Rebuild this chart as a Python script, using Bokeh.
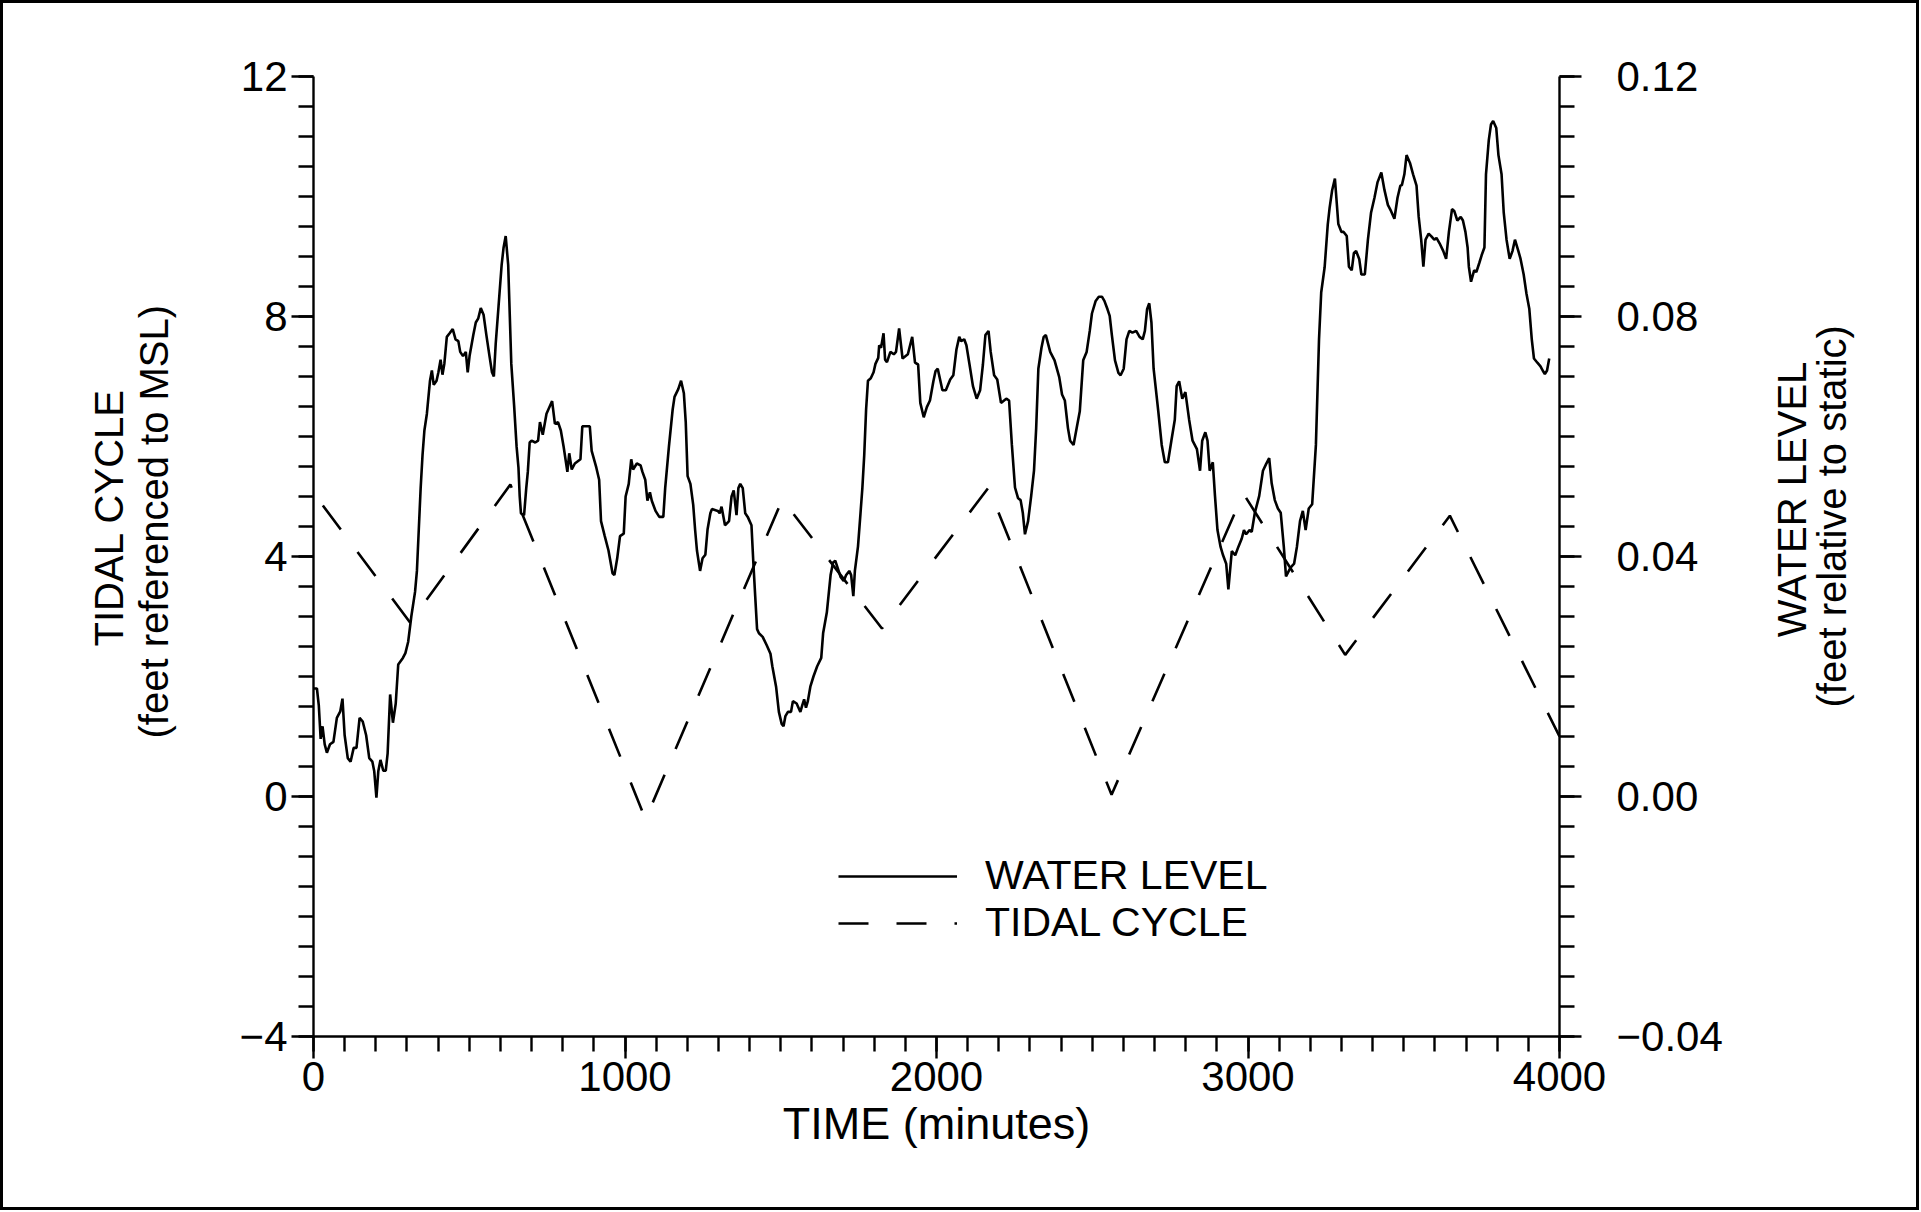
import math
import numpy as np
from bokeh.plotting import figure
from bokeh.layouts import row
from bokeh.models import Range1d, LinearAxis, FixedTicker
from bokeh.core.properties import value
from bokeh.embed import file_html
from bokeh.resources import INLINE

# ---------------- data ----------------
# Water level: time (minutes) and level (feet relative to static, right axis)
water_time = [0, 11, 17, 23, 29, 36, 43, 53, 64, 75, 86, 93, 100, 110, 119, 129, 138, 148, 158, 169,
              179, 189, 195, 202, 208, 215, 224, 232, 238, 246, 255, 264, 272, 287, 295, 304, 314, 326,
              332, 338, 344, 350, 356, 364, 374, 380, 386, 395, 401, 408, 414, 420, 428, 437, 447, 456,
              465, 471, 480, 489, 495, 501, 513, 521, 529, 537, 546, 555, 565, 573, 579, 585, 594, 604,
              610, 617, 625, 635, 644, 652, 658, 662, 666, 676, 683, 688, 694, 700, 712, 721, 727, 736,
              748, 760, 766, 775, 785, 794, 803, 815, 821, 829, 839, 857, 863, 869, 887, 893, 908, 917,
              923, 935, 947, 960, 966, 975, 984, 996, 1002, 1012, 1020, 1026, 1038, 1050, 1056, 1065,
              1072, 1080, 1086, 1098, 1110, 1123, 1129, 1141, 1153, 1159, 1171, 1180, 1189, 1195, 1201,
              1210, 1219, 1225, 1231, 1241, 1249, 1258, 1265, 1274, 1279, 1298, 1304, 1310, 1321, 1334,
              1342, 1349, 1358, 1364, 1370, 1378, 1386, 1394, 1406, 1412, 1418, 1424, 1430, 1442, 1455,
              1467, 1473, 1485, 1494, 1503, 1509, 1515, 1523, 1533, 1539, 1551, 1557, 1563, 1569, 1575,
              1581, 1587, 1595, 1605, 1617, 1630, 1636, 1648, 1660, 1668, 1675, 1684, 1692, 1702, 1710,
              1720, 1726, 1733, 1738, 1748, 1756, 1762, 1768, 1774, 1780, 1789, 1798, 1804, 1813, 1816,
              1822, 1830, 1835, 1841, 1852, 1863, 1870, 1880, 1891, 1908, 1922, 1931, 1941, 1948, 1959,
              1969, 1979, 1990, 1997, 2004, 2019, 2030, 2044, 2054, 2064, 2073, 2079, 2089, 2096, 2106,
              2117, 2129, 2140, 2149, 2157, 2167, 2174, 2185, 2195, 2207, 2224, 2233, 2242, 2252, 2262,
              2270, 2277, 2284, 2294, 2304, 2313, 2320, 2327, 2337, 2344, 2351, 2365, 2379, 2394, 2403,
              2412, 2422, 2429, 2440, 2450, 2460, 2471, 2482, 2492, 2499, 2511, 2521, 2531, 2539, 2549,
              2556, 2563, 2573, 2584, 2591, 2601, 2610, 2619, 2629, 2641, 2652, 2662, 2669, 2676, 2683,
              2690, 2697, 2712, 2723, 2733, 2743, 2754, 2765, 2771, 2779, 2789, 2799, 2811, 2822, 2836,
              2846, 2853, 2863, 2870, 2877, 2887, 2894, 2902, 2912, 2920, 2930, 2937, 2948, 2959, 2969,
              2980, 2987, 2994, 3005, 3012, 3022, 3036, 3048, 3058, 3068, 3076, 3086, 3096, 3105, 3115,
              3122, 3129, 3136, 3148, 3157, 3167, 3176, 3185, 3195, 3206, 3218, 3228, 3235, 3246, 3256,
              3262, 3270, 3279, 3290, 3300, 3307, 3317, 3324, 3333, 3340, 3347, 3357, 3364, 3375, 3385,
              3395, 3406, 3416, 3428, 3438, 3449, 3459, 3470, 3480, 3489, 3494, 3502, 3509, 3520, 3530,
              3541, 3548, 3556, 3563, 3570, 3580, 3588, 3598, 3605, 3615, 3627, 3636, 3645, 3655, 3662,
              3672, 3683, 3690, 3698, 3705, 3709, 3716, 3726, 3733, 3743, 3750, 3759, 3764, 3773, 3780,
              3787, 3797, 3804, 3814, 3821, 3830, 3840, 3849, 3857, 3868, 3875, 3885, 3894, 3903, 3911,
              3918, 3929, 3939, 3946, 3953, 3960, 3967]
water_level = [0.0180, 0.0180, 0.0152, 0.0096, 0.0117, 0.0087, 0.0073, 0.0087, 0.0091, 0.0131, 0.0142,
               0.0163, 0.0102, 0.0064, 0.0058, 0.0081, 0.0081, 0.0131, 0.0125, 0.0102, 0.0064, 0.0058,
               0.0042, -0.0002, 0.0042, 0.0061, 0.0043, 0.0043, 0.0072, 0.0170, 0.0123, 0.0155, 0.0220,
               0.0231, 0.0239, 0.0258, 0.0300, 0.0341, 0.0376, 0.0445, 0.0514, 0.0569, 0.0610, 0.0638,
               0.0693, 0.0710, 0.0686, 0.0693, 0.0707, 0.0728, 0.0703, 0.0721, 0.0766, 0.0772, 0.0779,
               0.0762, 0.0759, 0.0741, 0.0734, 0.0741, 0.0707, 0.0734, 0.0769, 0.0790, 0.0797, 0.0814,
               0.0803, 0.0769, 0.0734, 0.0707, 0.0700, 0.0755, 0.0817, 0.0886, 0.0914, 0.0934, 0.0886,
               0.0721, 0.0652, 0.0583, 0.0548, 0.0500, 0.0472, 0.0469, 0.0514, 0.0541, 0.0590, 0.0593,
               0.0590, 0.0593, 0.0624, 0.0603, 0.0638, 0.0652, 0.0659, 0.0621, 0.0624, 0.0610, 0.0583,
               0.0541, 0.0572, 0.0545, 0.0555, 0.0562, 0.0617, 0.0617, 0.0617, 0.0576, 0.0548, 0.0528,
               0.0459, 0.0434, 0.0410, 0.0372, 0.0369, 0.0397, 0.0434, 0.0438, 0.0500, 0.0521, 0.0562,
               0.0545, 0.0555, 0.0552, 0.0541, 0.0528, 0.0493, 0.0507, 0.0493, 0.0476, 0.0466, 0.0466,
               0.0514, 0.0583, 0.0645, 0.0666, 0.0679, 0.0693, 0.0672, 0.0624, 0.0534, 0.0521, 0.0486,
               0.0445, 0.0410, 0.0376, 0.0397, 0.0403, 0.0445, 0.0472, 0.0479, 0.0476, 0.0472, 0.0483,
               0.0452, 0.0459, 0.0500, 0.0510, 0.0469, 0.0514, 0.0521, 0.0514, 0.0472, 0.0466, 0.0452,
               0.0390, 0.0334, 0.0279, 0.0272, 0.0266, 0.0252, 0.0238, 0.0217, 0.0183, 0.0141, 0.0121,
               0.0117, 0.0134, 0.0141, 0.0141, 0.0159, 0.0155, 0.0148, 0.0141, 0.0152, 0.0162, 0.0148,
               0.0159, 0.0183, 0.0200, 0.0217, 0.0231, 0.0272, 0.0307, 0.0369, 0.0390, 0.0393, 0.0379,
               0.0366, 0.0359, 0.0369, 0.0376, 0.0369, 0.0334, 0.0376, 0.0417, 0.0472, 0.0514, 0.0569,
               0.0645, 0.0693, 0.0697, 0.0707, 0.0721, 0.0731, 0.0752, 0.0748, 0.0772, 0.0728, 0.0724,
               0.0741, 0.0737, 0.0741, 0.0780, 0.0730, 0.0737, 0.0766, 0.0723, 0.0720, 0.0656, 0.0632,
               0.0649, 0.0660, 0.0692, 0.0709, 0.0713, 0.0677, 0.0677, 0.0695, 0.0702, 0.0745, 0.0766,
               0.0759, 0.0762, 0.0752, 0.0720, 0.0684, 0.0663, 0.0677, 0.0720, 0.0769, 0.0776, 0.0741,
               0.0702, 0.0695, 0.0656, 0.0663, 0.0660, 0.0586, 0.0515, 0.0497, 0.0494, 0.0473, 0.0437,
               0.0459, 0.0501, 0.0543, 0.0614, 0.0713, 0.0748, 0.0766, 0.0769, 0.0741, 0.0727, 0.0699,
               0.0670, 0.0660, 0.0614, 0.0593, 0.0586, 0.0614, 0.0642, 0.0727, 0.0741, 0.0776, 0.0805,
               0.0826, 0.0833, 0.0833, 0.0826, 0.0812, 0.0801, 0.0769, 0.0727, 0.0706, 0.0702, 0.0713,
               0.0762, 0.0776, 0.0773, 0.0776, 0.0766, 0.0762, 0.0776, 0.0812, 0.0822, 0.0790, 0.0713,
               0.0642, 0.0586, 0.0557, 0.0557, 0.0593, 0.0628, 0.0684, 0.0692, 0.0663, 0.0674, 0.0628,
               0.0593, 0.0579, 0.0543, 0.0593, 0.0607, 0.0593, 0.0543, 0.0557, 0.0501, 0.0444, 0.0416,
               0.0402, 0.0388, 0.0345, 0.0409, 0.0402, 0.0416, 0.0430, 0.0444, 0.0437, 0.0444, 0.0441,
               0.0473, 0.0501, 0.0543, 0.0554, 0.0564, 0.0522, 0.0494, 0.0480, 0.0473, 0.0416, 0.0367,
               0.0374, 0.0381, 0.0388, 0.0416, 0.0459, 0.0476, 0.0444, 0.0480, 0.0487, 0.0586, 0.0762,
               0.0840, 0.0882, 0.0953, 0.0981, 0.1010, 0.1030, 0.0954, 0.0941, 0.0941, 0.0934, 0.0883,
               0.0877, 0.0906, 0.0909, 0.0896, 0.0870, 0.0870, 0.0928, 0.0973, 0.0998, 0.1024, 0.1040,
               0.1011, 0.0986, 0.0976, 0.0963, 0.0998, 0.1018, 0.1019, 0.1037, 0.1069, 0.1056, 0.1037,
               0.1018, 0.0966, 0.0928, 0.0883, 0.0928, 0.0938, 0.0934, 0.0928, 0.0931, 0.0922, 0.0909,
               0.0896, 0.0941, 0.0979, 0.0976, 0.0960, 0.0966, 0.0960, 0.0941, 0.0915, 0.0883, 0.0858,
               0.0877, 0.0874, 0.0890, 0.0902, 0.0915, 0.1037, 0.1094, 0.1120, 0.1126, 0.1114, 0.1069,
               0.1037, 0.0973, 0.0928, 0.0896, 0.0909, 0.0928, 0.0909, 0.0896, 0.0870, 0.0838, 0.0813,
               0.0762, 0.0730, 0.0723, 0.0717, 0.0710, 0.0704, 0.0710, 0.0730, 0.0737]

# Tidal cycle: time (minutes) and stage (feet referenced to MSL, left axis)
tide_time = [30, 310, 632, 1066, 1505, 1825, 2167, 2562, 2985, 3312, 3648, 4000]
tide_level = [4.85, 2.9, 5.2, -0.38, 4.95, 2.8, 5.15, 0.03, 5.05, 2.36, 4.68, 1.0]

x_ticks = [0, 1000, 2000, 3000, 4000]
left_ticks = [-4, 0, 4, 8, 12]
left_tick_labels = ["\u22124", "0", "4", "8", "12"]
right_ticks = [-0.04, 0.0, 0.04, 0.08, 0.12]
right_tick_labels = ["\u22120.04", "0.00", "0.04", "0.08", "0.12"]
left_title_lines = ["TIDAL CYCLE", "(feet referenced to MSL)"]
right_title_lines = ["WATER LEVEL", "(feet relative to static)"]

FONT = "Liberation Sans"
TOP, FRAME_H, BOTTOM = 76, 960, 174

# ---------------- main figure ----------------
p = figure(frame_width=1246, frame_height=FRAME_H,
           min_border_left=113, min_border_right=181, min_border_top=TOP, min_border_bottom=BOTTOM,
           x_range=Range1d(0, 4000), y_range=Range1d(-4, 12), title=None,
           output_backend="svg", toolbar_location=None,
           background_fill_color="white", border_fill_alpha=0)
p.extra_y_ranges = {"water": Range1d(-0.04, 0.12)}
p.xgrid.visible = False
p.ygrid.visible = False
p.outline_line_color = None


def style_axis(ax, ticks, minor, labels):
    ax.ticker = FixedTicker(ticks=ticks, minor_ticks=minor)
    ax.major_label_overrides = {t: l for t, l in zip(ticks, labels)}
    ax.axis_line_color = "black"
    ax.axis_line_width = 2.4
    ax.major_tick_line_color = "black"
    ax.major_tick_line_width = 2.4
    ax.minor_tick_line_color = "black"
    ax.minor_tick_line_width = 2.4
    ax.major_tick_in = 0
    ax.minor_tick_in = 0
    ax.major_tick_out = 22
    ax.minor_tick_out = 15
    ax.major_label_text_font = FONT
    ax.major_label_text_font_size = "42px"
    ax.major_label_text_color = "black"
    ax.axis_label_text_font = FONT
    ax.axis_label_text_font_size = "45px"
    ax.axis_label_text_font_style = "normal"
    ax.axis_label_text_color = "black"


x_minor = [float(v) for v in np.arange(0, 4001, 100)]
left_minor = [float(v) for v in np.arange(-4, 12.01, 0.5)]
right_minor = [round(float(v), 3) for v in np.arange(-0.04, 0.1201, 0.005)]

xax = p.xaxis[0]
style_axis(xax, x_ticks, x_minor, [str(t) for t in x_ticks])
xax.major_label_standoff = 3
xax.axis_label = "TIME (minutes)"
xax.axis_label_standoff = 4

yax = p.yaxis[0]
style_axis(yax, left_ticks, left_minor, left_tick_labels)
yax.major_label_standoff = 4

right_axis = LinearAxis(y_range_name="water")
style_axis(right_axis, right_ticks, right_minor, right_tick_labels)
right_axis.major_label_standoff = 35
p.add_layout(right_axis, "right")

# ---------------- lines ----------------
p.line(water_time, water_level, y_range_name="water", line_color="black", line_width=2.6,
       legend_label="WATER LEVEL")
p.line(tide_time, tide_level, line_color="black", line_width=2.6, line_dash="30 28",
       legend_label="TIDAL CYCLE")

lg = p.legend[0]
lg.location = (525, 90)
lg.border_line_color = None
lg.background_fill_alpha = 0
lg.padding = 0
lg.margin = 0
lg.spacing = 0
lg.glyph_width = 119
lg.glyph_height = 40
lg.label_standoff = 28
lg.label_text_font = FONT
lg.label_text_font_size = "41px"
lg.label_text_color = "black"


# ---------------- side panels holding the two-line axis titles (read bottom to top) ----------------
def title_panel(width, xs, ys, lines):
    f = figure(frame_width=width, frame_height=FRAME_H, min_border_left=0, min_border_right=0,
               min_border_top=TOP, min_border_bottom=BOTTOM, title=None,
               x_range=Range1d(0, width), y_range=Range1d(-4, 12),
               x_axis_location=None, y_axis_location=None,
               output_backend="svg", toolbar_location=None,
               background_fill_alpha=0, border_fill_alpha=0)
    f.xgrid.visible = False
    f.ygrid.visible = False
    f.outline_line_color = None
    f.text(x=xs, y=ys, text=lines, angle=math.pi / 2, text_align="center",
           text_baseline="middle", text_font=value(FONT), text_font_size="40px",
           text_color="black")
    return f


pl = title_panel(200, [108, 153], [4.65, 4.58], left_title_lines)
pr = title_panel(179, [51, 91], [4.95, 4.67], right_title_lines)

layout = row(pl, p, pr, spacing=0)
layout.styles = {"box-shadow": "inset 0 0 0 3px black", "background-color": "white"}

open("out.html", "w").write(file_html(layout, INLINE))
